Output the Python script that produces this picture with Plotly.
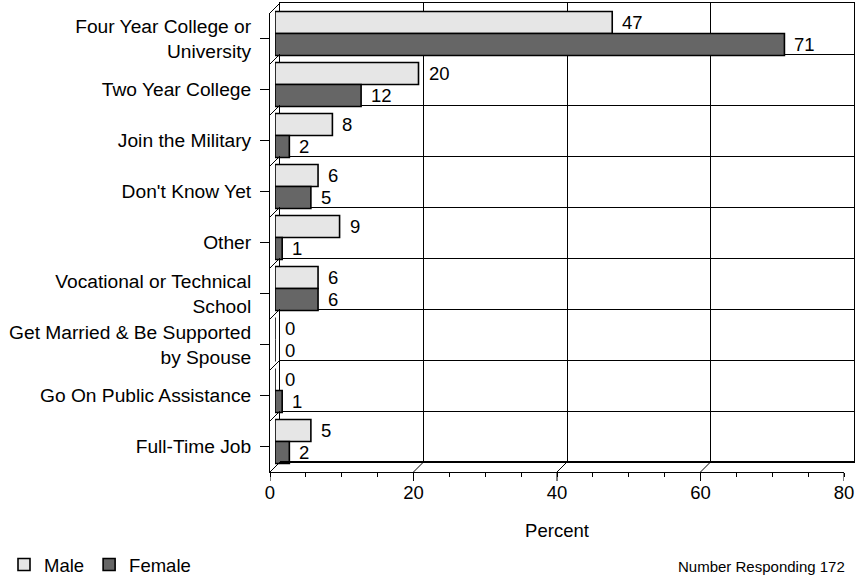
import plotly.graph_objects as go

# ---------------- data ----------------
categories = [
    "Four Year College or<br>University",
    "Two Year College",
    "Join the Military",
    "Don't Know Yet",
    "Other",
    "Vocational or Technical<br>School",
    "Get Married & Be Supported<br>by Spouse",
    "Go On Public Assistance",
    "Full-Time Job",
]
male = [47, 20, 8, 6, 9, 6, 0, 0, 5]
female = [71, 12, 2, 5, 1, 6, 0, 1, 2]
x_ticks = [0, 20, 40, 60, 80]
series_names = ["Male", "Female"]
axis_title = "Percent"
note_text = "Number Responding 172"

# ---------------- geometry helpers (pixels -> paper) ----------------
FW, FH = 856, 577
def px(x):
    return x / FW
def py(y):
    return 1 - y / FH

FRONT = (270, 844, 13, 472)   # x0, x1, ytop, ybottom
BACK = (280, 854, 3, 462)
MID = (275, 849, 8, 467)
DEPTH = 10

FONT = "Liberation Sans, Arial, sans-serif"
FS = 18.5
FS_CAT = 19.2
n = len(categories)

fig = go.Figure()

# bars on the mid plane (x2/y2)
fig.add_trace(go.Bar(
    name=series_names[0], y=categories, x=male, orientation="h",
    xaxis="x2", yaxis="y2",
    marker=dict(color="#e6e6e6", line=dict(color="#000000", width=1.6)),
))
fig.add_trace(go.Bar(
    name=series_names[1], y=categories, x=female, orientation="h",
    xaxis="x2", yaxis="y2",
    marker=dict(color="#666666", line=dict(color="#000000", width=1.6)),
))
# invisible trace to carry the front category axis
fig.add_trace(go.Scatter(
    x=[0] * n, y=categories, xaxis="x3", yaxis="y3", mode="markers",
    marker=dict(opacity=0), showlegend=False, hoverinfo="skip",
))
# invisible trace for the back wall subplot
fig.add_trace(go.Scatter(
    x=[None], y=[None], xaxis="x", yaxis="y", mode="markers",
    showlegend=False, hoverinfo="skip",
))

# data labels
annotations = []
for i in range(n):
    for vals, shift in ((male, 11), (female, -11)):
        annotations.append(dict(
            x=vals[i], y=i, xref="x2", yref="y2", text=str(vals[i]),
            showarrow=False, xanchor="left", yanchor="middle",
            xshift=8, yshift=shift, font=dict(family=FONT, size=FS, color="#000000"),
        ))
annotations.append(dict(
    x=px(847), y=py(566), xref="paper", yref="paper", text=note_text,
    showarrow=False, xanchor="right", yanchor="middle",
    font=dict(family=FONT, size=15, color="#000000"),
))

# 3D frame decorations
shapes = []
cat_h = (FRONT[3] - FRONT[2]) / n
for k in range(n + 1):
    yf = FRONT[2] + k * cat_h
    shapes.append(dict(type="line", xref="paper", yref="paper",
                       x0=px(FRONT[0]), y0=py(yf), x1=px(FRONT[0] + DEPTH), y1=py(yf - DEPTH),
                       line=dict(color="#000000", width=1)))
for v in x_ticks:
    # slanted floor edge at each major tick
    shapes.append(dict(type="line", xref="x3", yref="paper", xsizemode="pixel", xanchor=v,
                       x0=0, x1=DEPTH, y0=py(FRONT[3]), y1=py(BACK[3]),
                       line=dict(color="#000000", width=1)))
    # long major tick below the front axis
    shapes.append(dict(type="line", xref="x3", yref="paper", xsizemode="pixel", xanchor=v,
                       x0=0, x1=0, y0=py(FRONT[3]), y1=py(FRONT[3] + 9),
                       line=dict(color="#000000", width=1)))
shapes.append(dict(type="line", xref="paper", yref="paper",
                   x0=px(BACK[0]), x1=px(BACK[1]), y0=py(BACK[3]), y1=py(BACK[3]),
                   line=dict(color="#000000", width=2)))

fig.update_layout(
    width=FW, height=FH,
    margin=dict(l=0, r=0, t=0, b=0, autoexpand=False),
    paper_bgcolor="#ffffff", plot_bgcolor="rgba(0,0,0,0)",
    font=dict(family=FONT, size=FS, color="#000000"),
    barmode="group", bargap=0.14, bargroupgap=0,
    showlegend=True,
    legend=dict(orientation="h", x=px(4), y=py(565), xanchor="left", yanchor="middle",
                font=dict(family=FONT, size=FS, color="#000000"),
                bgcolor="rgba(0,0,0,0)", itemwidth=30, tracegroupgap=0),
    # back wall
    xaxis=dict(domain=[px(BACK[0]), px(BACK[1])], range=[0, 80], anchor="y",
               showgrid=True, dtick=20, tick0=0, gridcolor="#000000", gridwidth=1,
               showline=True, mirror=True, linecolor="#000000", linewidth=1,
               showticklabels=False, ticks="", zeroline=False, fixedrange=True),
    yaxis=dict(domain=[py(BACK[3]), py(BACK[2])], range=[0, n], anchor="x",
               showgrid=True, dtick=1, tick0=0, gridcolor="#000000", gridwidth=1,
               showline=True, mirror=True, linecolor="#000000", linewidth=1,
               showticklabels=False, ticks="", zeroline=False, fixedrange=True),
    # mid plane (bars)
    xaxis2=dict(domain=[px(MID[0]), px(MID[1])], range=[0, 80], anchor="y2",
                visible=False, fixedrange=True),
    yaxis2=dict(domain=[py(MID[3]), py(MID[2])], type="category",
                categoryorder="array", categoryarray=categories,
                range=[n - 0.5, -0.5], anchor="x2", visible=False, fixedrange=True),
    # front axes
    xaxis3=dict(domain=[px(FRONT[0]), px(FRONT[1])], range=[0, 80], anchor="y3",
                tickvals=x_ticks, ticks="outside", ticklen=4, tickcolor="#000000",
                showline=True, linecolor="#000000", linewidth=1, showgrid=False,
                zeroline=False, fixedrange=True,
                minor=dict(dtick=5, ticks="outside", ticklen=4, tickcolor="#000000", showgrid=False),
                title=dict(text=axis_title, standoff=21, font=dict(family=FONT, size=FS)),
                tickfont=dict(family=FONT, size=FS)),
    yaxis3=dict(domain=[py(FRONT[3]), py(FRONT[2])], type="category",
                categoryorder="array", categoryarray=categories,
                range=[n - 0.5, -0.5], anchor="x3",
                ticks="outside", ticklen=9, tickcolor="#000000",
                showline=True, linecolor="#000000", linewidth=1, showgrid=False,
                zeroline=False, fixedrange=True, ticklabelstandoff=5,
                tickfont=dict(family=FONT, size=FS_CAT)),
    annotations=annotations,
    shapes=shapes,
)

fig.write_html(
    "out.html",
    config={"displayModeBar": False},
    post_script="document.body.style.margin='0px';document.body.style.overflow='hidden';",
)
